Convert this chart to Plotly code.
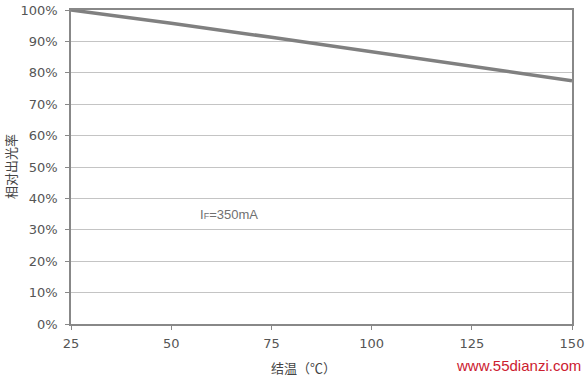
import plotly.graph_objects as go

temps = [25, 50, 75, 100, 125, 150]
rel_output = [100, 95.8, 91.3, 86.7, 82.1, 77.5]
x_ticks = [25, 50, 75, 100, 125, 150]
y_ticks = [0, 10, 20, 30, 40, 50, 60, 70, 80, 90, 100]
y_tick_text = [f"{v}%" for v in y_ticks]

L, R, T, B = 71, 572, 10, 324
W, H = 588, 378


def px(x):
    return (x - L) / (R - L)


def py(y):
    return (B - y) / (B - T)


fig = go.Figure()
fig.add_trace(go.Scatter(x=temps, y=rel_output, mode="lines",
                         line=dict(color="#808080", width=3.5), showlegend=False))

tick_font = dict(family="DejaVu Sans", size=13, color="#555555")
fig.update_layout(
    width=W, height=H,
    margin=dict(l=L, r=W - R, t=T, b=H - B, autoexpand=False),
    paper_bgcolor="white", plot_bgcolor="white",
    xaxis=dict(range=[25, 150], tickvals=x_ticks, ticks="outside", ticklen=4,
               tickcolor="#888888", showgrid=False, showline=True, linecolor="#888888",
               linewidth=1.5, mirror=True, tickfont=tick_font, zeroline=False,
               automargin=False, ticklabelstandoff=3),
    yaxis=dict(range=[0, 100], tickvals=y_ticks, ticktext=y_tick_text, ticks="outside",
               ticklen=4, tickcolor="#888888", showgrid=True, gridcolor="#c4c4c4",
               gridwidth=1, showline=True, linecolor="#888888", linewidth=1.5,
               mirror=True, tickfont=tick_font, zeroline=False, automargin=False,
               ticklabelstandoff=5),
    annotations=[
        dict(x=64.5, y=35, xref="x", yref="y", showarrow=False,
             text="I<span style='font-size:9px'>F</span>=350mA",
             font=dict(family="Liberation Sans", size=13, color="#707070")),
        dict(x=px(303), y=py(367), xref="paper", yref="paper", showarrow=False,
             text="结温（℃）", xanchor="center", yanchor="middle",
             font=dict(family="Noto Sans CJK SC", size=13, color="#444444")),
        dict(x=px(10), y=py(167), xref="paper", yref="paper", showarrow=False,
             text="相对出光率", textangle=-90, xanchor="center", yanchor="middle",
             font=dict(family="Noto Sans CJK SC", size=13, color="#444444")),
        dict(x=px(583), y=py(365), xref="paper", yref="paper", showarrow=False,
             text="www.55dianzi.com", xanchor="right", yanchor="middle",
             font=dict(family="Liberation Sans", size=15, color="#cc2030")),
    ],
)

fig.write_html("out.html", config={"displayModeBar": False},
               post_script="document.body.style.margin='0';")
